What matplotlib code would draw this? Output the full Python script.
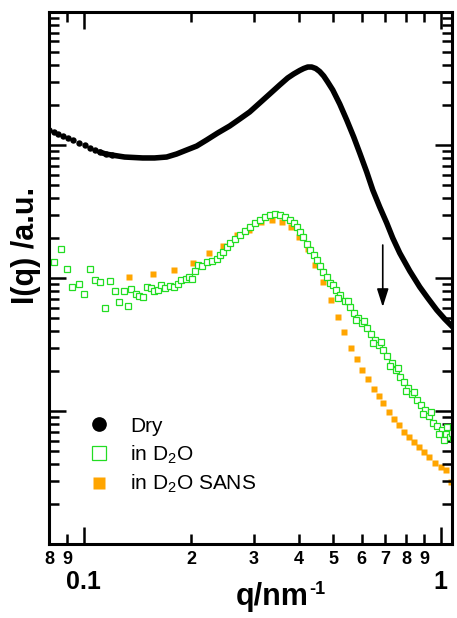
import numpy as np
import matplotlib
matplotlib.use("Agg")
import matplotlib.pyplot as plt
from matplotlib.ticker import LogLocator, FuncFormatter, NullFormatter

plt.rcParams["font.family"] = ["Liberation Sans", "DejaVu Sans"]
plt.rcParams["mathtext.fontset"] = "custom"
plt.rcParams["mathtext.rm"] = "Liberation Sans"
plt.rcParams["mathtext.bf"] = "Liberation Sans:bold"

# Dry sample (black)
dry_q = [0.0798, 0.0824, 0.0846, 0.0873, 0.0902, 0.0932, 0.0968, 0.1006, 0.1039, 0.1073,
         0.1109, 0.1152, 0.1198, 0.1303, 0.1463, 0.1580, 0.1708, 0.1822, 0.1943, 0.2073,
         0.2211, 0.2374, 0.2564, 0.2735, 0.2917, 0.3112, 0.3319, 0.3540, 0.3727, 0.3874,
         0.4027, 0.4133, 0.4242, 0.4352, 0.4466, 0.4581, 0.4702, 0.4825, 0.4984, 0.5214,
         0.5454, 0.5706, 0.5931, 0.6205, 0.6451, 0.6746, 0.7059, 0.7337, 0.7678, 0.8188,
         0.8735, 0.9196, 0.9745, 1.026, 1.080]
dry_I = [1297, 1253, 1210, 1169, 1129, 1081, 1035, 1000, 949, 917,
         886, 856, 841, 812, 799, 799, 812, 856, 917, 982,
         1091, 1231, 1389, 1567, 1771, 2069, 2417, 2826, 3190, 3420,
         3632, 3760, 3857, 3857, 3760, 3570, 3302, 2976, 2593, 2034,
         1542, 1148, 871, 626, 459, 342, 259, 200, 154, 113,
         85.6, 70.7, 57.5, 49.2, 42.8]

# in D2O (green open squares)
d2o_q = [0.0824, 0.0862, 0.0896, 0.0926, 0.0968, 0.1000, 0.1039, 0.1073, 0.1109, 0.1145,
         0.1183, 0.1221, 0.1253, 0.1294, 0.1328, 0.1354, 0.1399, 0.1426, 0.1463, 0.1501,
         0.1540, 0.1571, 0.1612, 0.1643, 0.1686, 0.1741, 0.1787, 0.1834, 0.1870, 0.1931,
         0.1969, 0.2007, 0.2046, 0.2086, 0.2141, 0.2211, 0.2284, 0.2358, 0.2404, 0.2451,
         0.2515, 0.2564, 0.2649, 0.2735, 0.2825, 0.2917, 0.3013, 0.3112, 0.3214, 0.3319,
         0.3428, 0.3540, 0.3656, 0.3776, 0.3874, 0.3950, 0.4027, 0.4106, 0.4213, 0.4295,
         0.4408, 0.4494, 0.4581, 0.4672, 0.4794, 0.4888, 0.4984, 0.5081, 0.5214, 0.5385,
         0.5561, 0.5706, 0.5855, 0.6008, 0.6205, 0.6367, 0.6533, 0.6704, 0.6879, 0.7059,
         0.7290, 0.7481, 0.7678, 0.7878, 0.8084, 0.8295, 0.8567, 0.8790, 0.9020, 0.9256,
         0.9497, 0.9745, 1.006, 1.033, 1.060, 1.080,
         0.5147, 0.5490, 0.5780, 0.6085, 0.6451, 0.6789, 0.7196, 0.7578, 0.7980, 0.8403,
         0.8906, 0.9376, 0.9872, 1.039, 1.019, 1.074]
d2o_I = [131.9, 165.2, 116.9, 85.6, 90.1, 75.8, 116.9, 96.6, 93.3, 59.5,
         94.9, 79.8, 66.0, 79.8, 61.6, 82.7, 75.8, 73.2, 72.0, 85.6,
         84.1, 79.8, 81.2, 88.6, 84.1, 87.1, 85.6, 90.1, 96.6, 98.3,
         101.8, 98.3, 112.9, 125.3, 123.1, 131.9, 134.2, 138.9, 148.9, 156.7,
         171.0, 183.3, 196.4, 210.5, 225.6, 241.7, 259.2, 273.0, 287.5, 297.7,
         302.9, 297.7, 287.5, 273.0, 259.2, 241.7, 221.8, 203.3, 180.2, 162.5,
         148.9, 136.5, 123.1, 110.9, 101.8, 91.7, 88.6, 81.2, 74.5, 67.1,
         60.5, 54.6, 50.0, 45.9, 42.1, 37.9, 34.2, 31.3, 28.7, 25.9,
         23.0, 20.3, 18.0, 16.5, 14.9, 13.4, 12.1, 11.1, 10.2, 9.17,
         8.13, 7.71, 7.20, 6.71, 6.38, 6.27,
         70.7, 67.1, 48.3, 47.5, 32.5, 33.0, 21.8, 21.1, 14.1, 13.9,
         9.49, 9.83, 6.71, 7.58, 6.05, 6.83]

# in D2O SANS (orange filled squares)
sans_q = [0.1337, 0.1561, 0.1787, 0.2020, 0.2239, 0.2451, 0.2683, 0.2899, 0.3132, 0.3362,
          0.3586, 0.3801, 0.4002, 0.4242, 0.4437, 0.4672, 0.4920, 0.5147, 0.5350, 0.5596,
          0.5818, 0.6008, 0.6245, 0.6492, 0.6704, 0.6879, 0.7150, 0.7384, 0.7627, 0.7878,
          0.8136, 0.8403, 0.8678, 0.8962, 0.9256, 0.9620, 1.000, 1.033, 1.066]
sans_I = [101.8, 107.2, 114.9, 129.7, 154.2, 174.0, 210.5, 229.6, 263.7, 273.0,
          263.7, 241.7, 203.3, 165.2, 125.3, 93.3, 68.3, 50.9, 39.3, 29.7,
          24.6, 20.3, 17.4, 14.6, 12.97, 11.48, 9.83, 8.71, 7.85, 6.95,
          6.38, 5.85, 5.36, 4.92, 4.51, 4.06, 3.79, 3.60, 2.93]

arrow_q = 0.688
arrow_I = [177, 60.5]

fig = plt.figure(figsize=(4.57, 6.18), dpi=100)
ax = fig.add_axes([0.1072, 0.1197, 0.8818, 0.8609])

green = "#22dd22"
orange = "#ffa500"

dq = np.array(dry_q)
dI = np.array(dry_I)
ax.plot(dq[dq >= 0.11], dI[dq >= 0.11], "-", color="black", lw=4.0,
        solid_joinstyle="round", solid_capstyle="round", zorder=3)
ax.plot(dq[dq < 0.125], dI[dq < 0.125], "o", color="black", ms=4.6, mec="none", zorder=3)
ax.plot([], [], "o", color="black", ms=4.6, mec="none", label="Dry")
ax.plot(d2o_q, d2o_I, "s", ms=4.2, mfc="white", mec=green, mew=0.9, zorder=2,
        label="in D$_2$O")
ax.plot(sans_q, sans_I, "s", ms=4.0, color=orange, mec="none", zorder=1,
        label="in D$_2$O SANS")

ax.annotate("", xy=(arrow_q, arrow_I[1]), xytext=(arrow_q, arrow_I[0]),
            arrowprops=dict(arrowstyle="-|>,head_length=1.1,head_width=0.35",
                            color="black", lw=1.2, shrinkA=0, shrinkB=0))

ax.set_xscale("log")
ax.set_yscale("log")
ax.set_xlim(0.08, 1.075)
ax.set_ylim(1, 1e4)

ax.xaxis.set_major_locator(LogLocator(base=10, subs=[1.0]))
ax.xaxis.set_minor_locator(LogLocator(base=10, subs=np.arange(2, 10)))
ax.xaxis.set_major_formatter(FuncFormatter(lambda v, p: "%g" % v))
ax.xaxis.set_minor_formatter(FuncFormatter(lambda v, p: "%d" % round(v / 10 ** np.floor(np.log10(v) + 1e-9))))
ax.yaxis.set_major_locator(LogLocator(base=10, subs=[1.0]))
ax.yaxis.set_minor_locator(LogLocator(base=10, subs=np.arange(2, 10)))
ax.yaxis.set_major_formatter(NullFormatter())
ax.yaxis.set_minor_formatter(NullFormatter())

ax.tick_params(which="both", direction="in", top=True, right=True, width=1.8)
ax.tick_params(which="major", length=12)
ax.tick_params(which="minor", length=7)
ax.tick_params(axis="x", which="major", pad=19, labelsize=18)
ax.tick_params(axis="x", which="minor", pad=5, labelsize=13)
for lab in ax.get_xticklabels(which="both"):
    lab.set_fontweight("bold")
for s in ax.spines.values():
    s.set_linewidth(2.2)

fig.text(272 / 457, 1 - 605 / 618, "q/nm", ha="center", va="baseline",
         fontsize=22, fontweight="bold")
fig.text(309 / 457, 1 - 594 / 618, "-1", ha="left", va="baseline",
         fontsize=13, fontweight="bold")
fig.text(26 / 457, 1 - 245 / 618, "I(q) /a.u.", ha="center", va="center",
         rotation=90, fontsize=22, fontweight="bold")

ax.legend(loc="upper left", bbox_to_anchor=(0.072, 0.255), frameon=False, fontsize=15,
          markerscale=2.3, handlelength=1.2, handletextpad=0.9, labelspacing=0.35,
          borderaxespad=0)

fig.savefig("out.png", dpi=100)
